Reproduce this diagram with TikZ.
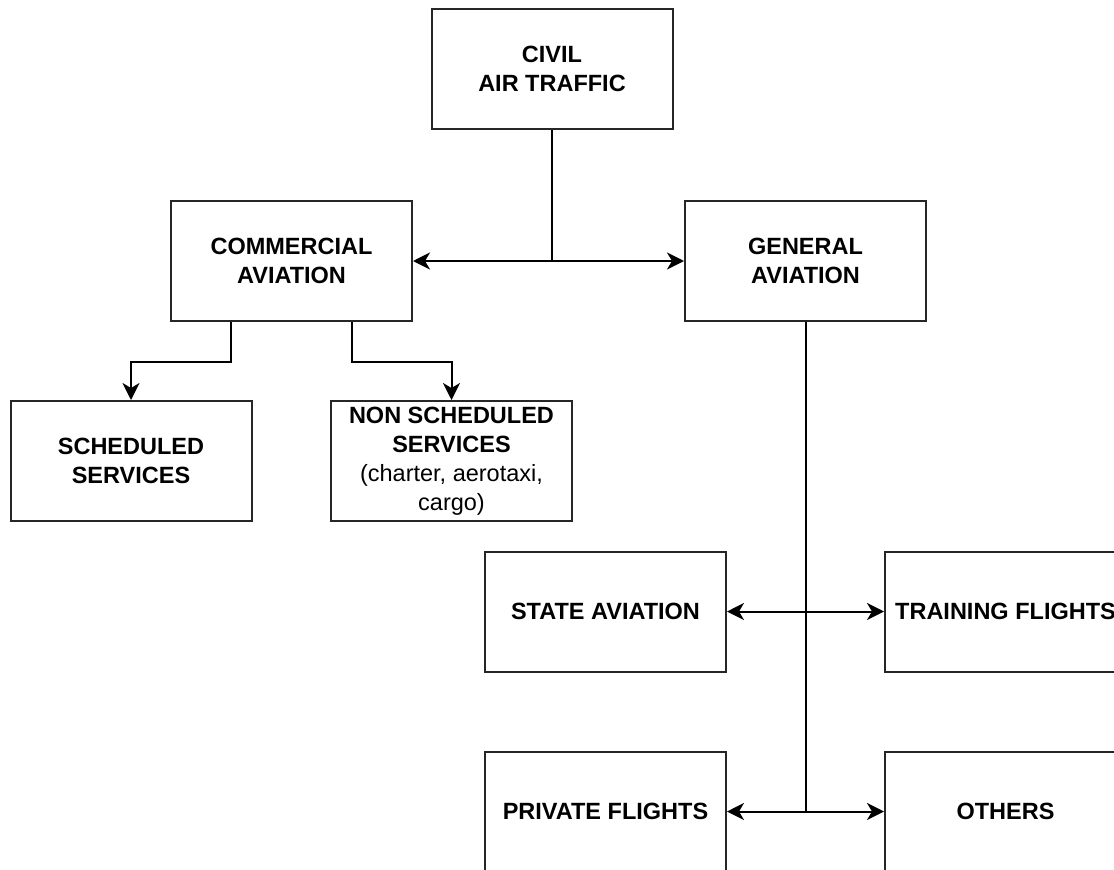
\documentclass[tikz,border=0pt]{standalone}
\usepackage{fontspec}
\setmainfont{Liberation Sans}
\usetikzlibrary{arrows.meta,calc}
\tikzset{
  box/.style={draw=black!85, line width=2pt, minimum width=241pt, minimum height=120pt, inner sep=0pt, align=center, font=\bfseries\fontsize{23.5}{29}\selectfont},
  conn/.style={draw=black, line width=2pt},
  arr/.style={conn, -{Stealth[length=17pt,width=17pt,inset=5pt]}},
  darr/.style={conn, {Stealth[length=17pt,width=17pt,inset=5pt]}-{Stealth[length=17pt,width=17pt,inset=5pt]}}
}
\begin{document}
\begin{tikzpicture}[x=1pt,y=-1pt]
\useasboundingbox (0,0) rectangle (1114,870);
\clip (0,0) rectangle (1114,870);
\fill[white] (0,0) rectangle (1114,870);
\node[box] (civil) at (552,69) {CIVIL\\AIR TRAFFIC};
\node[box] (comm) at (291.5,261) {COMMERCIAL\\AVIATION};
\node[box] (gen) at (805.5,261) {GENERAL\\AVIATION};
\node[box] (sched) at (131,461) {SCHEDULED\\SERVICES};
\node[box] (nonsched) at (451.5,461) {NON SCHEDULED\\SERVICES\\{\mdseries(charter, aerotaxi,}\\{\mdseries cargo)}};
\node[box] (state) at (605.5,611.5) {STATE AVIATION};
\node[box] (train) at (1005.5,611.5) {TRAINING FLIGHTS};
\node[box] (priv) at (605.5,811.5) {PRIVATE FLIGHTS};
\node[box] (others) at (1005.5,811.5) {OTHERS};
\coordinate (j1) at (civil.south |- comm.east);
\coordinate (j3) at (gen.south |- priv.east);
\coordinate (c1) at ($(comm.south west)!0.25!(comm.south east)$);
\coordinate (c2) at ($(comm.south west)!0.75!(comm.south east)$);
\draw[conn] (civil.south) -- (j1);
\draw[darr] (comm.east) -- (gen.west);
\draw[arr] (c1) -- ++(0,40) -| (sched.north);
\draw[arr] (c2) -- ++(0,40) -| (nonsched.north);
\draw[conn] (gen.south) -- (j3);
\draw[darr] (state.east) -- (train.west);
\draw[darr] (priv.east) -- (others.west);
\end{tikzpicture}
\end{document}
